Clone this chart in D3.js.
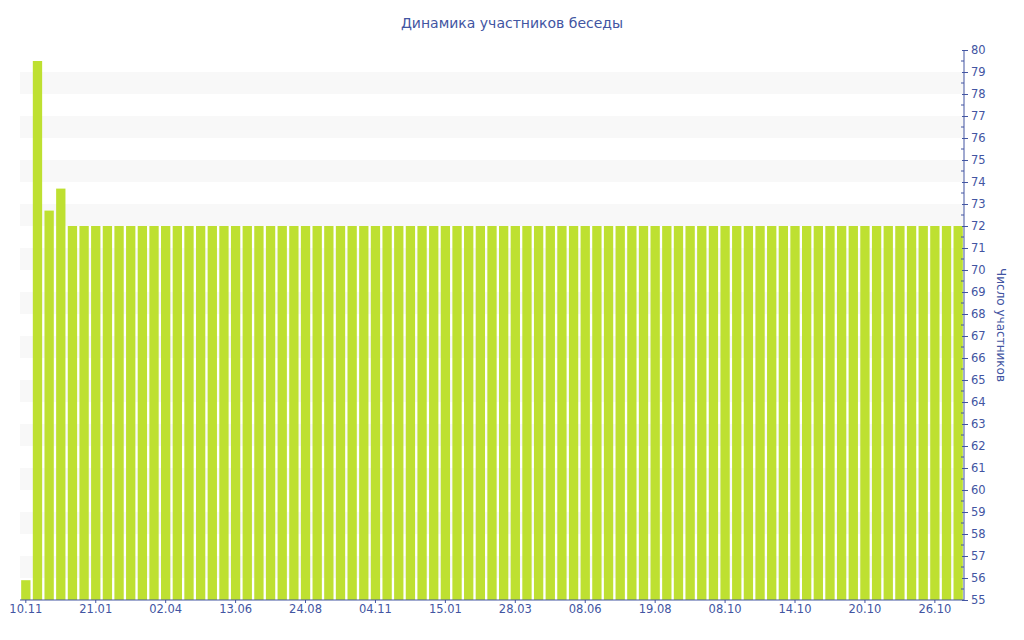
<!DOCTYPE html>
<html>
<head>
<meta charset="UTF-8" />
<title>Динамика участников беседы</title>
<script src="https://d3js.org/d3.v7.min.js"></script>
<style>
  body { margin: 0; background: #fff; }
  svg text { font-family: "DejaVu Sans", Verdana, sans-serif; fill: #4255a2; }
</style>
</head>
<body>
<div id="chart"></div>
<script>
  // dates of each bar
  const dates = [
    '10.11', '22.11', '04.12', '16.12', '28.12', '09.01', '21.01', '02.02', '14.02', '26.02',
    '09.03', '21.03', '02.04', '14.04', '26.04', '08.05', '20.05', '01.06', '13.06', '25.06',
    '07.07', '19.07', '31.07', '12.08', '24.08', '05.09', '17.09', '29.09', '11.10', '23.10',
    '04.11', '16.11', '28.11', '10.12', '22.12', '03.01', '15.01', '27.01', '08.02', '20.02',
    '04.03', '16.03', '28.03', '09.04', '21.04', '03.05', '15.05', '27.05', '08.06', '20.06',
    '02.07', '14.07', '26.07', '07.08', '19.08', '31.08', '12.09', '24.09', '06.10', '07.10',
    '08.10', '09.10', '10.10', '11.10', '12.10', '13.10', '14.10', '15.10', '16.10', '17.10',
    '18.10', '19.10', '20.10', '21.10', '22.10', '23.10', '24.10', '25.10', '26.10', '27.10',
    '28.10'
  ]
  // number of participants
  const members = [
    55.9, 79.5, 72.7, 73.7, 72, 72, 72, 72, 72, 72,
    72, 72, 72, 72, 72, 72, 72, 72, 72, 72,
    72, 72, 72, 72, 72, 72, 72, 72, 72, 72,
    72, 72, 72, 72, 72, 72, 72, 72, 72, 72,
    72, 72, 72, 72, 72, 72, 72, 72, 72, 72,
    72, 72, 72, 72, 72, 72, 72, 72, 72, 72,
    72, 72, 72, 72, 72, 72, 72, 72, 72, 72,
    72, 72, 72, 72, 72, 72, 72, 72, 72, 72,
    72
  ]
  const xTickLabels = ['10.11', '21.01', '02.04', '13.06', '24.08', '04.11', '15.01',
    '28.03', '08.06', '19.08', '08.10', '14.10', '20.10', '26.10']
  const yDomain = [55, 80]

  const data = dates.map((d, i) => ({ i: i, date: d, value: members[i] }))

  const W = 1024, H = 640
  const margin = { top: 50, right: 60, bottom: 40, left: 20 }
  const width = W - margin.left - margin.right
  const height = H - margin.top - margin.bottom
  const axisColor = '#4255a2'

  const svg = d3.select('#chart').append('svg')
    .attr('width', W).attr('height', H)

  svg.append('text')
    .attr('x', W / 2).attr('y', 28)
    .attr('text-anchor', 'middle')
    .style('font-size', '14px')
    .text('Динамика участников беседы')

  const g = svg.append('g').attr('transform', `translate(${margin.left},${margin.top})`)

  const x = d3.scaleBand().domain(data.map(d => d.i)).range([0, width]).paddingInner(0.2).paddingOuter(0.1)
  const y = d3.scaleLinear().domain(yDomain).range([height, 0])

  // alternating stripes
  const stripes = d3.range(56, 80, 2)
  g.selectAll('.stripe').data(stripes).join('rect')
    .attr('class', 'stripe')
    .attr('x', 0).attr('width', width)
    .attr('y', d => y(d + 1)).attr('height', d => y(d) - y(d + 1))
    .attr('fill', '#f8f8f8')

  // bars
  g.selectAll('.bar').data(data).join('rect')
    .attr('class', 'bar')
    .attr('x', d => x(d.i))
    .attr('width', x.bandwidth())
    .attr('y', d => y(d.value))
    .attr('height', d => height - y(d.value))
    .attr('fill', '#bee031')

  // right axis
  const yAxis = g.append('g').attr('transform', `translate(${width},0)`)
  yAxis.call(d3.axisRight(y).ticks(25).tickSize(4).tickPadding(3))
  yAxis.select('.domain').attr('stroke', axisColor).attr('d', `M0,${height}V0`)
  yAxis.selectAll('.tick line').attr('stroke', axisColor).attr('x1', -2)
  yAxis.selectAll('.tick text').style('font-size', '11.5px').attr('fill', axisColor)
  // minor ticks
  yAxis.selectAll('.minor').data(d3.range(55.5, 80, 1)).join('line')
    .attr('class', 'minor')
    .attr('x1', -3).attr('x2', 0)
    .attr('y1', d => y(d)).attr('y2', d => y(d))
    .attr('stroke', axisColor)

  // bottom axis
  const xAxis = g.append('g').attr('transform', `translate(0,${height})`)
  const tickIdx = data.filter(d => d.i % 6 === 0 && xTickLabels.includes(d.date)).map(d => d.i)
  xAxis.call(d3.axisBottom(x).tickValues(tickIdx).tickFormat(i => dates[i]).tickSize(3).tickPadding(2))
  xAxis.select('.domain').attr('stroke', axisColor).attr('d', `M0,0H${width}`)
  xAxis.selectAll('.tick line').attr('stroke', axisColor)
  xAxis.selectAll('.tick text').style('font-size', '11.5px').attr('fill', axisColor)

  // y axis title
  svg.append('text')
    .attr('transform', `translate(997,${margin.top + height / 2}) rotate(90)`)
    .attr('text-anchor', 'middle')
    .style('font-size', '12px')
    .text('Число участников')
</script>
</body>
</html>
